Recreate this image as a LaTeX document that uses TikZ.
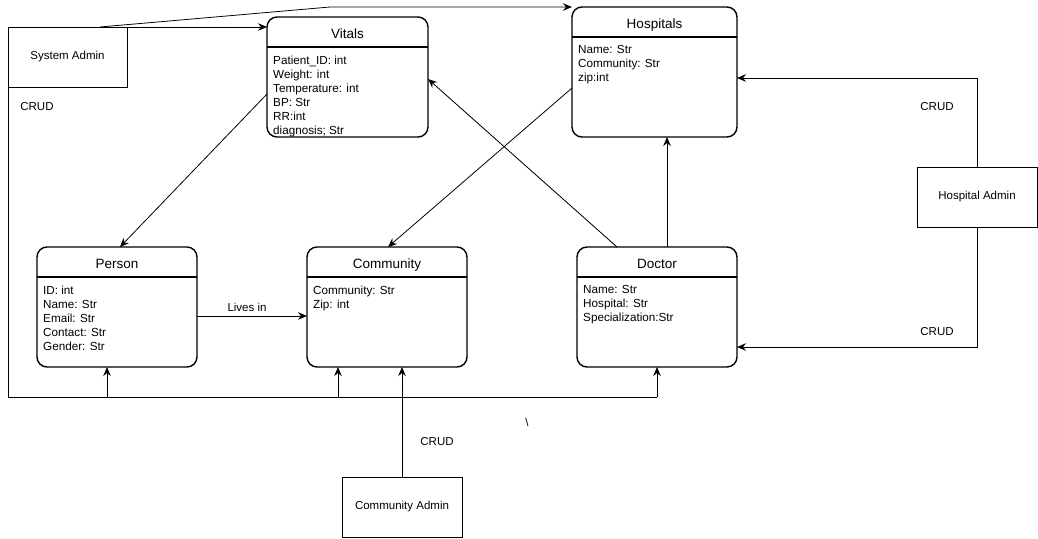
\documentclass[tikz,border=0pt]{standalone}
\usepackage{fontspec}
\setmainfont{Liberation Sans}
\usetikzlibrary{arrows.meta,calc}
\begin{document}
\begin{tikzpicture}[x=1pt,y=-1pt,
  entity/.style={draw, line width=1.4pt, rounded corners=10pt, anchor=north west, inner sep=0, outer sep=0, minimum width=161pt, minimum height=120pt},
  adminbox/.style={draw, line width=0.8pt, anchor=north west, inner sep=0, outer sep=0, minimum width=120pt, minimum height=60pt, font=\fontsize{11.5}{14}\selectfont},
  etitle/.style={font=\fontsize{13.5}{16}\selectfont, inner sep=0, anchor=base},
  attr/.style={font=\fontsize{11.7}{14}\selectfont, align=left, anchor=north west, inner sep=0},
  lbl/.style={font=\fontsize{11.5}{14}\selectfont, inner sep=0},
  conn/.style={line width=0.8pt, -{Stealth[length=9pt,width=7.5pt,inset=3pt]}},
  plain/.style={line width=0.8pt}]
\useasboundingbox (0,0) rectangle (1038,538);

% entities
\node[entity] (vitals) at (267,17) {};
\node[entity, minimum width=165pt, minimum height=130pt] (hosp) at (572,7) {};
\node[entity, minimum width=160pt] (person) at (37,247) {};
\node[entity, minimum width=160pt] (comm) at (307,247) {};
\node[entity, minimum width=160pt] (doctor) at (577,247) {};

% header lines
\foreach \e in {vitals,hosp,person,comm,doctor}{
  \draw[line width=1.4pt] ([yshift=-30pt]\e.north west) -- ([yshift=-30pt]\e.north east);
}

% titles
\node[etitle] (tv) at ([yshift=-21pt]vitals.north) {Vitals};
\node[etitle] (th) at ([yshift=-21pt]hosp.north) {Hospitals};
\node[etitle] (tp) at ([yshift=-21pt]person.north) {Person};
\node[etitle] (tc) at ([yshift=-21pt]comm.north) {Community};
\node[etitle] (td) at ([yshift=-21pt]doctor.north) {Doctor};

% attributes
\node[attr] (av) at ([xshift=6pt,yshift=-38.5pt]vitals.north west) {Patient\_ID: int\\Weight: int\\Temperature: int\\BP: Str\\RR:int\\diagnosis; Str};
\node[attr] (ah) at ([xshift=6pt,yshift=-38.5pt]hosp.north west) {Name: Str\\Community: Str\\zip:int};
\node[attr] (ap) at ([xshift=6pt,yshift=-38.5pt]person.north west) {ID: int\\Name: Str\\Email: Str\\Contact: Str\\Gender: Str};
\node[attr] (ac) at ([xshift=6pt,yshift=-38.5pt]comm.north west) {Community: Str\\Zip: int};
\node[attr] (ad) at ([xshift=6pt,yshift=-38.5pt]doctor.north west) {Name: Str\\Hospital: Str\\Specialization:Str};

% admin boxes
\node[adminbox, minimum width=119pt] (sys) at (8,27) {System Admin};
\node[adminbox] (hadm) at (917,167) {Hospital Admin};
\node[adminbox] (cadm) at (342,477) {Community Admin};

% labels
\node[lbl] (crud1) at (37,107) {CRUD};
\node[lbl] (crud2) at (937,107) {CRUD};
\node[lbl] (crud3) at (937,332) {CRUD};
\node[lbl] (crud4) at (437,442) {CRUD};
\node[lbl] (livesin) at (247,307) {Lives in};
\node[lbl] (bs) at (527,422) {\textbackslash};

% coordinates
\coordinate (sysbend) at (330,7);
\coordinate (bl) at (8,397);
\coordinate (br) at (657,397);
\coordinate (htop) at (977,78);
\coordinate (hbot) at (977,347);
\coordinate (pbus) at (107,397);
\coordinate (cbus) at (338,397);

% System Admin connectors
\draw[conn] ($(sys.north west)+(92,0)$) -- (sysbend) -- (hosp.north west);
\draw[conn] (sys.north east) -- (vitals.north west |- sys.north east);
\draw[plain] (sys.south west) -- (bl) -- (br);
\draw[conn] (br) -- (doctor.south);
\draw[conn] (pbus) -- (person.south -| pbus);
\draw[conn] (cbus) -- (comm.south -| cbus);

% entity relations
\draw[conn] ($(vitals.north west)+(0,77)$) -- ($(person.north west)+(83,0)$);
\draw[conn] ($(hosp.north west)+(0,81)$) -- ($(comm.north west)+(81,0)$);
\draw[conn] ($(doctor.north west)+(40,0)$) -- ($(vitals.north east)+(0,62)$);
\draw[conn] ($(doctor.north west)+(90,0)$) -- ($(hosp.south west)+(95,0)$);
\draw[conn] ($(person.north east)+(0,69)$) -- ($(comm.north west)+(0,69)$);

% Hospital Admin connectors
\draw[conn] (hadm.north -| htop) -- (htop) -- (hosp.east |- htop);
\draw[conn] (hadm.south -| hbot) -- (hbot) -- (doctor.east |- hbot);

% Community Admin connector
\draw[conn] ($(cadm.north west)+(60,0)$) -- ($(comm.south west)+(95,0)$);
\end{tikzpicture}
\end{document}
